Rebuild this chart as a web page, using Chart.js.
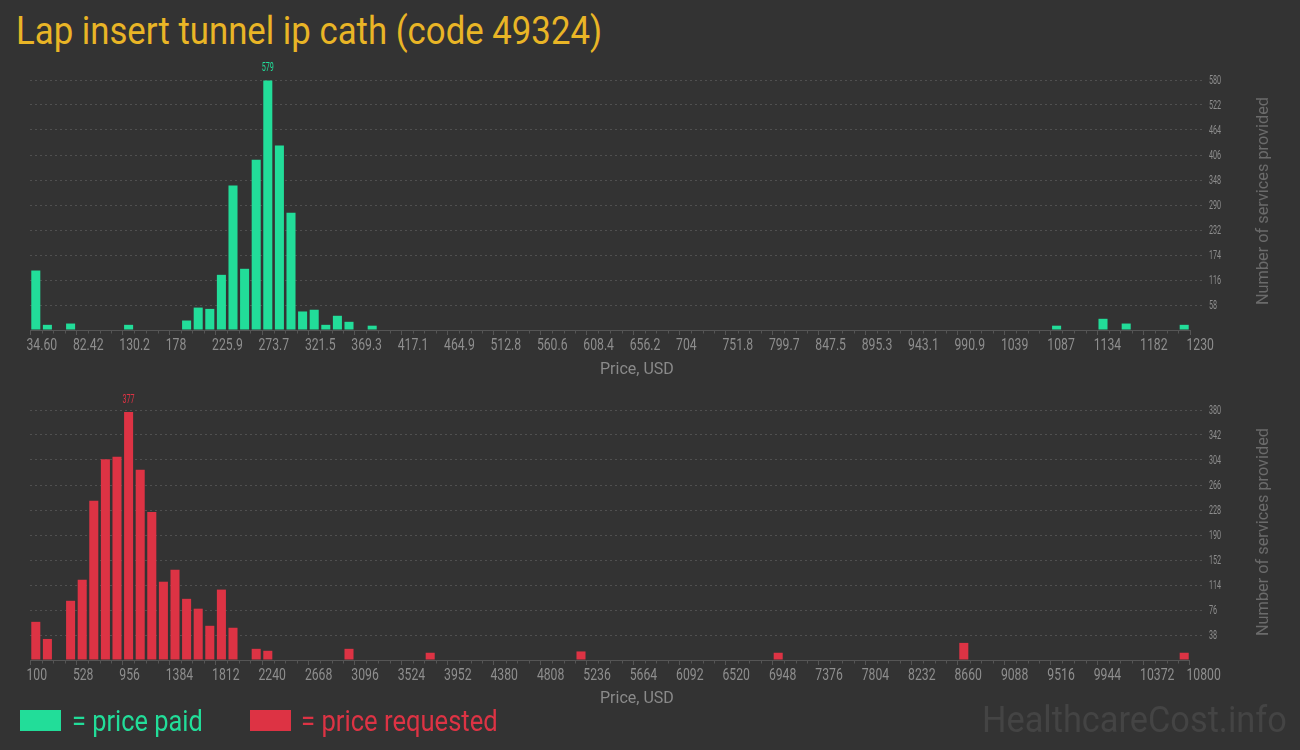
<!DOCTYPE html>
<html>
<head>
<meta charset="utf-8">
<script src="https://cdn.jsdelivr.net/npm/chart.js@4.4.1/dist/chart.umd.min.js"></script>
<style>
html,body{margin:0;padding:0;background:#333333;width:1300px;height:750px;overflow:hidden;font-family:Roboto,"Noto Sans",sans-serif;}
.t{position:absolute;white-space:nowrap;line-height:1;transform-origin:0 0;}
.sq{position:absolute;}
.cw{position:absolute;left:0;width:1300px;height:320px;}
</style>
</head>
<body>
<div id="title" class="t" data-w="586" style="left:16px;top:10.8px;font-size:39.4px;color:#e9b526;">Lap insert tunnel ip cath (code 49324)</div>

<div class="cw" style="top:60px;"><canvas id="c1" width="1300" height="320"></canvas></div>
<div class="cw" style="top:390px;"><canvas id="c2" width="1300" height="320"></canvas></div>

<div class="t xt" data-w="74" style="left:600px;top:361px;font-size:16px;color:#8a8a8a;">Price, USD</div>
<div class="t xt" data-w="74" style="left:600px;top:690px;font-size:16px;color:#8a8a8a;">Price, USD</div>

<div class="t yt" data-w="208" data-cx="1261.6" data-cy="201" style="font-size:17px;color:#6b6b6b;">Number of services provided</div>
<div class="t yt" data-w="208" data-cx="1261.6" data-cy="531.5" style="font-size:17px;color:#6b6b6b;">Number of services provided</div>

<div class="sq" style="left:20px;top:710px;width:41px;height:21px;background:#22dd99;"></div>
<div class="t" data-w="131" style="left:72px;top:705.7px;font-size:30px;color:#22dd99;">= price paid</div>
<div class="sq" style="left:250px;top:710px;width:41px;height:21px;background:#dd3344;"></div>
<div class="t" data-w="197" style="left:301px;top:705.7px;font-size:30px;color:#dd3344;">= price requested</div>

<div class="t" data-w="305" style="left:982px;top:701.9px;font-size:36.6px;color:#444444;">HealthcareCost.info</div>

<script>
// ---------------- DATA ----------------
const paidBinStart = 34.60;
const paidBinEnd = 1230;
const paidCounts = [
  138, 12, 0, 15, 0, 0, 0, 0, 12, 0,
  0, 0, 0, 22, 52, 49, 128, 335, 142, 395,
  579, 428, 272, 43, 47, 12, 33, 19, 0, 10,
  0, 0, 0, 0, 0, 0, 0, 0, 0, 0,
  0, 0, 0, 0, 0, 0, 0, 0, 0, 0,
  0, 0, 0, 0, 0, 0, 0, 0, 0, 0,
  0, 0, 0, 0, 0, 0, 0, 0, 0, 0,
  0, 0, 0, 0, 0, 0, 0, 0, 0, 0,
  0, 0, 0, 0, 0, 0, 0, 0, 10, 0,
  0, 0, 26, 0, 15, 0, 0, 0, 0, 12
];
const paidXLabels = ["34.60","82.42","130.2","178","225.9","273.7","321.5","369.3","417.1","464.9","512.8","560.6","608.4","656.2","704","751.8","799.7","847.5","895.3","943.1","990.9","1039","1087","1134","1182","1230"];
const paidYTicks = [58,116,174,232,290,348,406,464,522,580];

const requestedBinStart = 100;
const requestedBinEnd = 10800;
const requestedCounts = [
  58, 32, 0, 90, 122, 242, 305, 309, 377, 289,
  225, 119, 137, 93, 78, 52, 107, 49, 0, 17,
  14, 0, 0, 0, 0, 0, 0, 17, 0, 0,
  0, 0, 0, 0, 11, 0, 0, 0, 0, 0,
  0, 0, 0, 0, 0, 0, 0, 13, 0, 0,
  0, 0, 0, 0, 0, 0, 0, 0, 0, 0,
  0, 0, 0, 0, 11, 0, 0, 0, 0, 0,
  0, 0, 0, 0, 0, 0, 0, 0, 0, 0,
  26, 0, 0, 0, 0, 0, 0, 0, 0, 0,
  0, 0, 0, 0, 0, 0, 0, 0, 0, 11
];
const requestedXLabels = ["100","528","956","1384","1812","2240","2668","3096","3524","3952","4380","4808","5236","5664","6092","6520","6948","7376","7804","8232","8660","9088","9516","9944","10372","10800"];
const requestedYTicks = [38,76,114,152,190,228,266,304,342,380];

const GREEN = '#22dd99';
const RED = '#dd3344';
// --------------------------------------

const TICKFONT = "Roboto,'Noto Sans',sans-serif";

function narrowText(ctx, text, x, y, size, sx, align) {
  ctx.save();
  ctx.font = size + 'px ' + TICKFONT;
  ctx.textAlign = align;
  ctx.textBaseline = 'alphabetic';
  ctx.translate(x, y);
  ctx.scale(sx, 1);
  ctx.fillText(text, 0, 0);
  ctx.restore();
}

const decor = {
  id: 'decor',
  afterDatasetsDraw(chart, args, o) {
    const ctx = chart.ctx, xs = chart.scales.x, ys = chart.scales.y;
    const y0 = Math.round(ys.getPixelForValue(0)) + 0.5;
    ctx.save();
    ctx.strokeStyle = '#555555';
    ctx.lineWidth = 1;
    ctx.beginPath();
    ctx.moveTo(xs.getPixelForValue(o.start), y0);
    ctx.lineTo(xs.getPixelForValue(o.end), y0);
    for (let i = 0; i <= o.bins; i++) {
      if (i % 4 === 0) continue;
      const px = Math.round(xs.getPixelForValue(o.start + i * (o.end - o.start) / o.bins)) + 0.5;
      ctx.moveTo(px, y0);
      ctx.lineTo(px, y0 + 3);
    }
    ctx.stroke();
    ctx.restore();

    // x tick labels (start-anchored just left of each major tick)
    ctx.fillStyle = '#8e8e8e';
    const step = (o.end - o.start) / (o.xLabels.length - 1);
    o.xLabels.forEach((l, k) => {
      narrowText(ctx, l, xs.getPixelForValue(o.start + k * step) - 3.5, y0 + 19.5, 16.5, 0.74, 'left');
    });
    // y tick labels
    o.yTicks.forEach(v => {
      narrowText(ctx, String(v), chart.chartArea.right + 4, ys.getPixelForValue(v) + 4.3, 12, 0.6, 'left');
    });

    // peak label
    const data = chart.data.datasets[0].data;
    let mi = 0;
    data.forEach((d, i) => { if (d.y > data[mi].y) mi = i; });
    const bar = chart.getDatasetMeta(0).data[mi];
    ctx.fillStyle = o.color;
    narrowText(ctx, String(data[mi].y), bar.x, bar.y - 9, 12, 0.6, 'center');
  }
};

function makeChart(id, start, end, counts, xLabels, yTicks, color) {
  const bins = counts.length;
  const w = (end - start) / bins;
  const data = counts.map((c, i) => ({ x: start + (i + 0.5) * w, y: c }));
  const step = (end - start) / (xLabels.length - 1);
  return new Chart(document.getElementById(id), {
    type: 'bar',
    data: { datasets: [{ data, backgroundColor: color, borderWidth: 0, barPercentage: 0.78, categoryPercentage: 1 }] },
    options: {
      responsive: false,
      animation: false,
      devicePixelRatio: 1,
      layout: { padding: { left: 30, right: 0, top: 20, bottom: 0 } },
      plugins: { legend: { display: false }, tooltip: { enabled: false },
                 decor: { start, end, bins, color, xLabels, yTicks } },
      scales: {
        x: {
          type: 'linear',
          min: start,
          max: end + (end - start) * 15 / 1160,
          offset: false,
          afterBuildTicks: s => { s.ticks = xLabels.map((l, k) => ({ value: start + k * step })); },
          afterFit: s => { s.height = 50; },
          ticks: { display: false, autoSkip: false, maxRotation: 0, minRotation: 0,
                   callback: (v, i) => xLabels[i] },
          grid: { display: true, drawOnChartArea: false, drawTicks: true, tickLength: 5, tickColor: '#555555', offset: false },
          border: { display: false }
        },
        y: {
          position: 'right',
          min: 0,
          max: yTicks[yTicks.length - 1],
          afterBuildTicks: s => { s.ticks = [0].concat(yTicks).map(v => ({ value: v })); },
          afterFit: s => { s.width = 95; },
          ticks: { display: false, callback: v => (v === 0 ? '' : String(v)) },
          grid: { drawTicks: false, lineWidth: 1,
                  color: c => (c.tick && c.tick.value === 0 ? 'rgba(0,0,0,0)' : '#505050') },
          border: { display: false, dash: [2, 3] }
        }
      }
    },
    plugins: [decor]
  });
}

makeChart('c1', paidBinStart, paidBinEnd, paidCounts, paidXLabels, paidYTicks, GREEN);
makeChart('c2', requestedBinStart, requestedBinEnd, requestedCounts, requestedXLabels, requestedYTicks, RED);

function fit() {
  document.querySelectorAll('.t').forEach(el => {
    el.style.transform = 'none';
    const tw = parseFloat(el.dataset.w);
    const k = tw / el.offsetWidth;
    if (el.classList.contains('yt')) {
      el.style.left = el.dataset.cx + 'px';
      el.style.top = el.dataset.cy + 'px';
      el.style.transform = 'rotate(-90deg) scaleX(' + k + ') translate(-50%,-50%)';
    } else {
      el.style.transform = 'scaleX(' + k + ')';
    }
  });
}
fit();
if (document.fonts && document.fonts.ready) document.fonts.ready.then(fit);
</script>
</body>
</html>
